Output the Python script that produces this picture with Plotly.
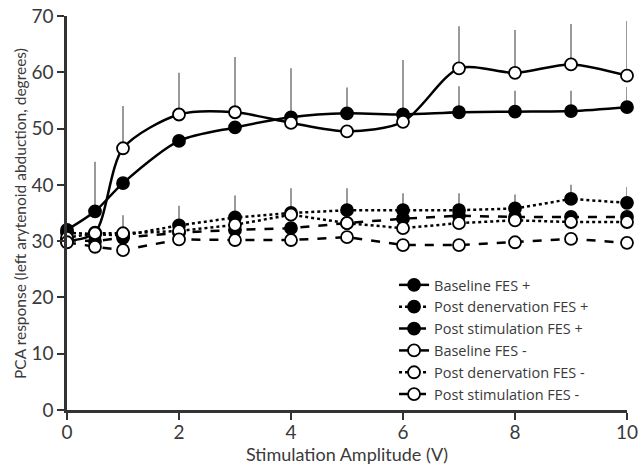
import plotly.graph_objects as go

x = [0, 0.5, 1, 2, 3, 4, 5, 6, 7, 8, 9, 10]

baseline_pos = [32.0, 35.3, 40.3, 47.8, 50.2, 52.0, 52.7, 52.5, 52.9, 53.0, 53.1, 53.8]
postden_pos = [31.5, 31.2, 31.0, 32.8, 34.2, 35.0, 35.5, 35.5, 35.5, 35.8, 37.5, 36.8]
poststim_pos = [30.2, 30.0, 30.6, 31.5, 32.0, 32.3, 33.2, 34.0, 34.5, 34.3, 34.3, 34.3]
baseline_neg = [30.0, 31.5, 46.5, 52.5, 52.9, 51.0, 49.5, 51.2, 60.7, 59.9, 61.4, 59.4]
postden_neg = [30.6, 31.4, 31.4, 31.8, 32.9, 34.7, 33.2, 32.3, 33.2, 33.7, 33.4, 33.4]
poststim_neg = [29.8, 29.0, 28.4, 30.3, 30.2, 30.2, 30.7, 29.3, 29.3, 29.8, 30.4, 29.7]

# upward error bars (SD)
err_baseline_pos = [0, 8.8, 0, 0, 0, 0, 4.6, 0, 4.6, 3.7, 3.6, 3.6]
err_baseline_neg = [0, 0, 7.5, 7.4, 9.8, 9.7, 0, 11.0, 7.5, 7.6, 7.2, 9.7]
err_postden_pos = [0, 0, 3.6, 3.5, 3.9, 4.4, 3.9, 3.0, 3.0, 2.5, 2.5, 2.8]

series = [
    ("Baseline FES +", baseline_pos, "solid", "black", "spline"),
    ("Post denervation FES +", postden_pos, "dot", "black", "linear"),
    ("Post stimulation FES +", poststim_pos, "dash", "black", "linear"),
    ("Baseline FES -", baseline_neg, "solid", "white", "spline"),
    ("Post denervation FES -", postden_neg, "dot", "white", "linear"),
    ("Post stimulation FES -", poststim_neg, "dash", "white", "linear"),
]

fig = go.Figure()

# error bars first so they sit behind all lines and markers
for vals, err in [(baseline_pos, err_baseline_pos), (baseline_neg, err_baseline_neg), (postden_pos, err_postden_pos)]:
    fig.add_trace(go.Scatter(
        x=x, y=vals, mode="markers", marker=dict(size=1, opacity=0),
        error_y=dict(type="data", array=err, arrayminus=[0] * len(err), symmetric=False,
                     color="#9a9a9a", thickness=2, width=0),
        showlegend=False, hoverinfo="skip", cliponaxis=False,
    ))

for name, vals, dash, fill, shape in series:
    fig.add_trace(go.Scatter(
        x=x, y=vals, name=name, mode="lines+markers",
        line=dict(color="black", width=2.5, dash=dash, shape=shape, smoothing=0.8),
        marker=dict(symbol="circle", size=12, color=fill, line=dict(color="black", width=1.8)),
        cliponaxis=False,
    ))

fig.update_layout(
    width=642, height=471,
    margin=dict(l=67, r=15, t=16, b=61),
    paper_bgcolor="white", plot_bgcolor="white",
    font=dict(family="Lato", color="#3a3a3a"),
    showlegend=True,
    hovermode=False,
    legend=dict(x=0.584, y=0.358, xanchor="left", yanchor="top",
                bgcolor="rgba(0,0,0,0)", font=dict(family="Open Sans", size=14.5, color="#3a3a3a"),
                tracegroupgap=0),
    annotations=[dict(
        text="PCA response (left arytenoid abduction, degrees)", textangle=-90,
        xref="paper", yref="paper", x=-0.084, y=0.5, xanchor="center", yanchor="middle",
        showarrow=False, font=dict(size=15.5, color="#3a3a3a"),
    )],
)
fig.update_xaxes(
    range=[0, 10], tickvals=[0, 2, 4, 6, 8, 10], showgrid=False, zeroline=False,
    showline=True, linecolor="#333333", linewidth=2.5, ticks="outside", ticklen=7,
    tickwidth=2, tickcolor="#333333", tickfont=dict(size=19), automargin=False,
    ticklabelstandoff=-4, ticklabeloverflow="allow",
    title=dict(text="Stimulation Amplitude (V)", font=dict(size=18), standoff=4),
)
fig.update_yaxes(
    range=[0, 70], tickvals=[0, 10, 20, 30, 40, 50, 60, 70], showgrid=False, zeroline=False,
    showline=True, linecolor="#333333", linewidth=2.5, ticks="outside", ticklen=7,
    tickwidth=2, tickcolor="#333333", tickfont=dict(size=19), automargin=False,
    ticklabeloverflow="allow",
)

# remove the default page margin so the 642x471 figure fills the window exactly
fig.write_html("out.html", config={"displayModeBar": False},
               post_script="document.body.style.margin='0px';")
